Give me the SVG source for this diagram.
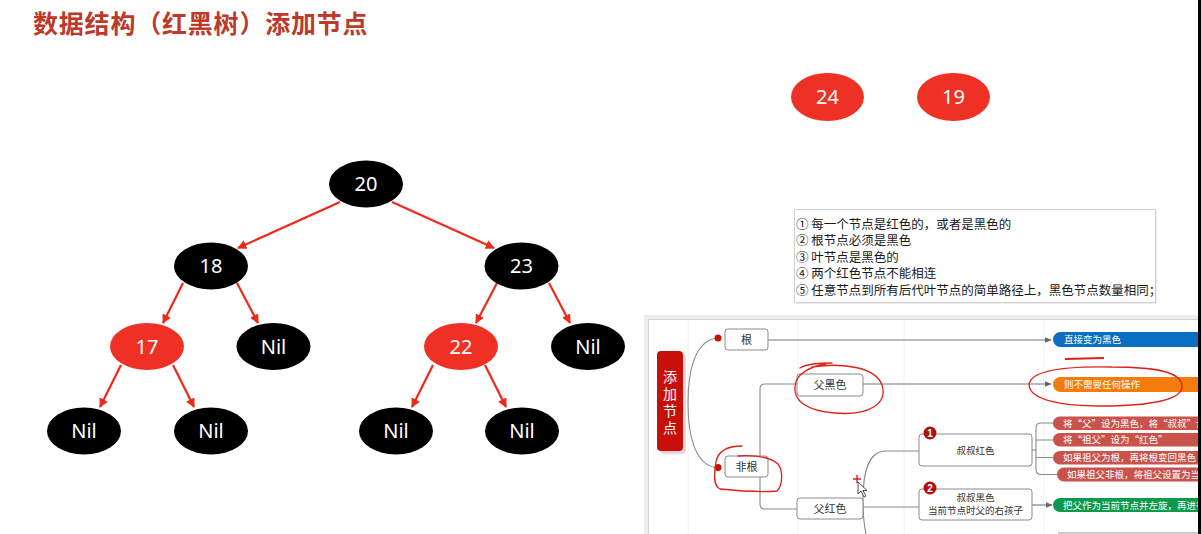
<svg xmlns="http://www.w3.org/2000/svg" width="1201" height="534" viewBox="0 0 1201 534">
<defs>
<marker id="ra" viewBox="0 0 10 10" refX="9" refY="5" markerWidth="4.2" markerHeight="4.2" orient="auto" markerUnits="strokeWidth"><path d="M0,0 L10,5 L0,10 Z" fill="#ee2a1a"/></marker>
<marker id="ga" viewBox="0 0 10 10" refX="9" refY="5" markerWidth="6" markerHeight="6" orient="auto" markerUnits="strokeWidth"><path d="M0,1 L10,5 L0,9 Z" fill="#666"/></marker>
<style>
.title{font-family:"Noto Sans CJK SC",sans-serif;font-weight:bold;font-size:25px;fill:#bd3a2b;letter-spacing:0.8px}
.tn{font-family:"Noto Sans","Open Sans",sans-serif;font-size:20px;fill:#fff;text-anchor:middle}
.blk{fill:#000}
.red{fill:#ee3124}
.edge{stroke:#ee2a1a;stroke-width:2.2;fill:none;marker-end:url(#ra)}
.rule{font-family:"Noto Sans CJK SC",sans-serif;font-size:12.5px;fill:#1a1a1a}
.box{fill:#fff;stroke:#8a8a8a;stroke-width:1}
.mt{font-family:"Noto Sans CJK SC",sans-serif;font-size:11px;fill:#333;text-anchor:middle}
.st{font-family:"Noto Sans CJK SC",sans-serif;font-size:9.5px;fill:#333;text-anchor:middle}
.pt{font-family:"Noto Sans CJK SC",sans-serif;font-size:9.5px;fill:#fff}
.vt{font-family:"Noto Sans CJK SC",sans-serif;font-size:14px;fill:#fff;text-anchor:middle;writing-mode:vertical-rl;letter-spacing:3px}
.ln{stroke:#8a8a8a;stroke-width:1.1;fill:none}
.arr{stroke:#777;stroke-width:1.1;fill:none;marker-end:url(#ga)}
.grid{stroke:#f0f0f0;stroke-width:1}
.ink{stroke:#e0201a;stroke-width:1.3;fill:none;stroke-linecap:round}
.dot{fill:#c8100b}
.badge{fill:#b01010}
.bt{font-family:"Liberation Sans",sans-serif;font-size:10px;font-weight:bold;fill:#fff;text-anchor:middle}
</style>
</defs>
<rect x="0" y="0" width="1201" height="534" fill="#fff"/>
<text class="title" x="33" y="33">数据结构（红黑树）添加节点</text>

<g id="connectors">
<line class="edge" x1="340" y1="202" x2="238" y2="248"/>
<line class="edge" x1="392" y1="202" x2="494" y2="248"/>
<line class="edge" x1="183" y1="283" x2="163" y2="323"/>
<line class="edge" x1="237" y1="283" x2="258" y2="323"/>
<line class="edge" x1="497" y1="283" x2="476" y2="323"/>
<line class="edge" x1="549" y1="283" x2="570" y2="323"/>
<line class="edge" x1="121" y1="365" x2="100" y2="407"/>
<line class="edge" x1="173" y1="365" x2="194" y2="407"/>
<line class="edge" x1="433" y1="365" x2="412" y2="407"/>
<line class="edge" x1="485" y1="365" x2="506" y2="407"/>
</g>

<g id="n20"><ellipse class="blk" cx="366" cy="184" rx="37" ry="23.5"/><text class="tn" x="366" y="191">20</text></g>
<g id="n18"><ellipse class="blk" cx="211" cy="266" rx="37" ry="23.5"/><text class="tn" x="211" y="273">18</text></g>
<g id="n23"><ellipse class="blk" cx="521.5" cy="266" rx="37" ry="23.5"/><text class="tn" x="521.5" y="273">23</text></g>
<g id="n17"><ellipse class="red" cx="147" cy="346.5" rx="37" ry="23.5"/><text class="tn" x="147" y="353.5">17</text></g>
<g id="nil18"><ellipse class="blk" cx="273.5" cy="346.5" rx="37" ry="23.5"/><text class="tn" x="273.5" y="353.5">Nil</text></g>
<g id="n22"><ellipse class="red" cx="461" cy="346.5" rx="37" ry="23.5"/><text class="tn" x="461" y="353.5">22</text></g>
<g id="nil23"><ellipse class="blk" cx="588" cy="346.5" rx="37" ry="23.5"/><text class="tn" x="588" y="353.5">Nil</text></g>
<g id="nil17a"><ellipse class="blk" cx="84" cy="431" rx="37" ry="23.5"/><text class="tn" x="84" y="438">Nil</text></g>
<g id="nil17b"><ellipse class="blk" cx="211" cy="431" rx="37" ry="23.5"/><text class="tn" x="211" y="438">Nil</text></g>
<g id="nil22a"><ellipse class="blk" cx="396" cy="431" rx="37" ry="23.5"/><text class="tn" x="396" y="438">Nil</text></g>
<g id="nil22b"><ellipse class="blk" cx="522" cy="431" rx="37" ry="23.5"/><text class="tn" x="522" y="438">Nil</text></g>

<g id="n24"><ellipse class="red" cx="827.5" cy="97" rx="36.5" ry="24"/><text class="tn" x="827.5" y="104">24</text></g>
<g id="n19"><ellipse class="red" cx="953.5" cy="97" rx="36.5" ry="24"/><text class="tn" x="953.5" y="104">19</text></g>

<g id="rules">
<rect x="796" y="211" width="361" height="93" fill="#ececec"/>
<rect x="794.5" y="209.5" width="361" height="93" fill="#fff" stroke="#cfcfcf"/>
<text class="rule" x="796" y="228.5"><tspan x="796">① 每一个节点是红色的，或者是黑色的</tspan><tspan x="796" dy="16.6">② 根节点必须是黑色</tspan><tspan x="796" dy="16.6">③ 叶节点是黑色的</tspan><tspan x="796" dy="16.6">④ 两个红色节点不能相连</tspan><tspan x="796" dy="16.6">⑤ 任意节点到所有后代叶节点的简单路径上，黑色节点数量相同；</tspan></text>
</g>

<g id="panel">
<rect x="646" y="317" width="560" height="230" fill="none" stroke="#ededed" stroke-width="4"/>
<rect x="648.5" y="319.5" width="560" height="230" fill="#fff" stroke="#d2d2d2"/>
<line class="grid" x1="688" y1="320" x2="688" y2="534"/>
<line class="grid" x1="798" y1="320" x2="798" y2="534"/>
<line class="grid" x1="904" y1="320" x2="904" y2="534"/>
<line class="grid" x1="1044" y1="320" x2="1044" y2="534"/>
</g>

<g id="mm-connectors">
<path class="ln" d="M718,338 C695,340 688,370 688,403 C688,436 695,466 718,468"/>
<path class="ln" d="M797,384 H765 Q760,384 760,389 V504 Q760,509 765,509 H797 M760,466 H768"/>
<line class="arr" x1="768" y1="340" x2="1051" y2="340"/>
<line class="arr" x1="863" y1="384" x2="1051" y2="384"/>
<path class="ln" d="M919,451 H885 C868,452 863,472 863,500 C863,515 864,525 866,534"/>
<line class="ln" x1="863" y1="507" x2="919" y2="507"/>
<path class="ln" d="M1053,423 H1041 Q1036,423 1036,428 V469.5 Q1036,474.5 1041,474.5 H1057 M1036,440 H1053 M1036,457.5 H1053 M1032,450 H1036"/>
<line class="arr" x1="1032" y1="505" x2="1052" y2="505"/>
<line x1="1058" y1="533" x2="1201" y2="533" stroke="#9a9a9a" stroke-width="1.2"/>
</g>

<g id="root-topic">
<rect x="660" y="354" width="26" height="100" rx="4" fill="#e9d6d6"/>
<rect x="657" y="351" width="26" height="100" rx="4" fill="#c8100b"/>
<text class="vt" x="670" y="403.5">添加节点</text>
</g>

<g id="t-gen"><circle class="dot" cx="718" cy="338" r="3.5"/><rect class="box" x="725" y="329" width="43" height="21" rx="3"/><text class="mt" x="746.5" y="343.5">根</text></g>
<g id="t-feigen"><circle class="dot" cx="718" cy="467.5" r="3.5"/><rect class="box" x="725" y="456" width="43" height="21" rx="3"/><text class="mt" x="746.5" y="470.5">非根</text></g>
<g id="t-fuhei"><rect class="box" x="797" y="374" width="66" height="22" rx="3"/><text class="mt" x="830" y="389">父黑色</text></g>
<g id="t-fuhong"><rect class="box" x="797" y="498" width="66" height="21" rx="3"/><text class="mt" x="830" y="512.5">父红色</text></g>
<g id="t-shuhong"><rect class="box" x="919" y="434" width="113" height="32" rx="3"/><text class="st" x="975.5" y="453.5">叔叔红色</text><circle class="badge" cx="930" cy="433" r="6.5"/><text class="bt" x="930" y="436.5">1</text></g>
<g id="t-shuhei"><rect class="box" x="919" y="489" width="113" height="31" rx="3"/><text class="st" x="975.5" y="501"><tspan x="975.5">叔叔黑色</tspan><tspan x="975.5" dy="13">当前节点时父的右孩子</tspan></text><circle class="badge" cx="930" cy="488" r="6.5"/><text class="bt" x="930" y="491.5">2</text></g>

<g id="p-blue"><rect x="1053" y="332" width="160" height="15" rx="7.5" fill="#0a6fc2"/><text class="pt" x="1064" y="343">直接变为黑色</text></g>
<g id="p-orange"><rect x="1053" y="377" width="160" height="15" rx="7.5" fill="#f27c0d"/><text class="pt" x="1064" y="388">则不需要任何操作</text></g>
<g id="p-r1"><rect x="1053" y="416.5" width="160" height="13.5" rx="6.7" fill="#c9524b"/><text class="pt" x="1063" y="426.5">将“父”设为黑色，将“叔叔”设</text></g>
<g id="p-r2"><rect x="1053" y="433" width="160" height="13.5" rx="6.7" fill="#c9524b"/><text class="pt" x="1063" y="443">将“祖父”设为“红色”</text></g>
<g id="p-r3"><rect x="1053" y="451" width="160" height="13.5" rx="6.7" fill="#c9524b"/><text class="pt" x="1063" y="461">如果祖父为根，再将根变回黑色</text></g>
<g id="p-r4"><rect x="1057" y="467.5" width="160" height="14" rx="7" fill="#c9524b"/><text class="pt" x="1067" y="478">如果祖父非根，将祖父设置为当前</text></g>
<g id="p-green"><rect x="1053" y="498" width="160" height="14" rx="7" fill="#0b9a4c"/><text class="pt" x="1063" y="508.5">把父作为当前节点并左旋，再进行</text></g>

<g id="annotations">
<path class="ink" d="M800,368 C806,364 820,363 832,363 M812,367 C845,362 876,368 882,385 C888,404 868,416 835,413 C806,411 793,400 795,386 C796,373 812,366 826,364"/>
<path class="ink" d="M742,446 C727,446 718,451 716,462 C714,474 713,486 720,489 C740,491 765,492 777,491 C783,485 783,470 778,464 C770,457 754,455 738,456"/>
<path class="ink" d="M1112,367 C1062,366 1030,371 1029,385 C1030,400 1062,406 1100,406 C1150,406 1183,400 1182,386 C1182,373 1160,367 1112,367"/>
<path d="M1065,359 L1104,358" stroke="#e0201a" stroke-width="2.2" fill="none"/>
<path d="M853,479 H861 M857,475 V483" stroke="#e0201a" stroke-width="1.4"/>
<path d="M858,482 L858,494 L861,491 L864,497 L866,496 L863,490.5 L867,490.5 Z" fill="#fff" stroke="#222" stroke-width="0.8"/>
</g>

<rect x="1198" y="0" width="3" height="534" fill="#000"/>
</svg>
